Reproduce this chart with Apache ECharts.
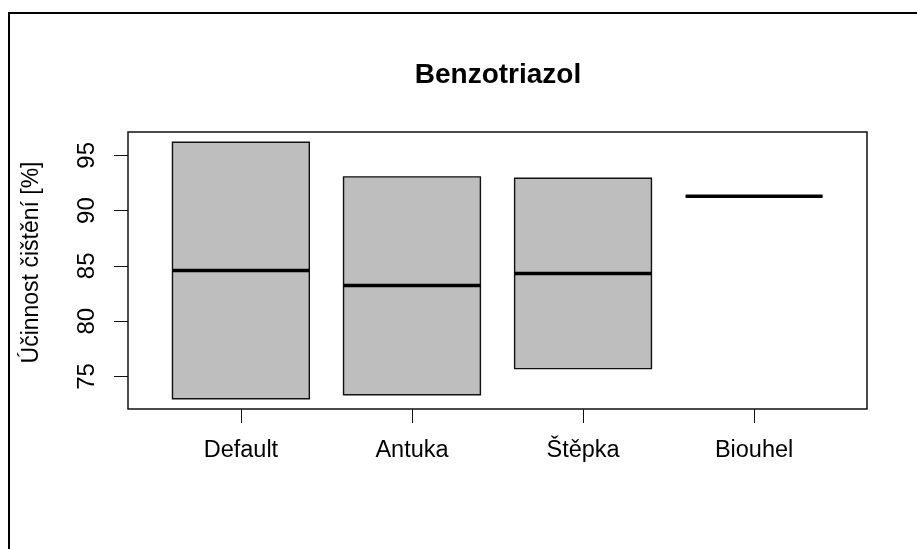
<!DOCTYPE html>
<html>
<head>
<meta charset="utf-8">
<script src="https://cdn.jsdelivr.net/npm/echarts@6/dist/echarts.min.js"></script>
<style>
html,body{margin:0;padding:0;background:#fff;}
#chart{width:917px;height:549px;}
</style>
</head>
<body>
<div id="chart"></div>
<script>
// ---- data ----
const categories = ['Default', 'Antuka', 'Štěpka', 'Biouhel'];
const lowerHinge = [72.98, 73.34, 75.70, 91.29];
const medians    = [84.57, 83.22, 84.30, 91.29];
const upperHinge = [96.18, 93.05, 92.92, 91.29];
const yTicks     = [75, 80, 85, 90, 95];
const titleText  = 'Benzotriazol';
const yTitle     = 'Účinnost čištění [%]';

// ---- derived (R-style 4% axis expansion) ----
const dMin = Math.min(...lowerHinge), dMax = Math.max(...upperHinge);
const yPad = 0.04 * (dMax - dMin);
const xPad = 0.04 * categories.length;
const xPositions = categories.map((c, i) => i + 1);
const seriesData = categories.map((c, i) => [i + 1, lowerHinge[i], medians[i], upperHinge[i]]);

const FONT = 'Liberation Sans, Arial, sans-serif';
const chart = echarts.init(document.getElementById('chart'), null, {renderer: 'canvas'});
const BOX_HALF = 0.4;

chart.setOption({
  animation: false,
  backgroundColor: '#ffffff',
  graphic: [
    {type: 'rect', shape: {x: 9, y: 13, width: 1000, height: 1000}, style: {fill: 'none', stroke: '#000', lineWidth: 2}, z: 0},
    {type: 'text', x: 498, y: 75, style: {text: titleText, font: 'bold 28px ' + FONT, fill: '#000', textAlign: 'center', textVerticalAlign: 'middle'}, z: 10}
  ],
  grid: {left: 128, right: 50, top: 132, bottom: 140, show: true, borderColor: '#111', borderWidth: 1.5, backgroundColor: 'transparent'},
  xAxis: {
    type: 'value',
    min: 0.5 - xPad, max: categories.length + 0.5 + xPad,
    axisLine: {show: false},
    splitLine: {show: false},
    axisTick: {show: true, customValues: xPositions, length: 14, lineStyle: {color: '#111', width: 1}},
    axisLabel: {customValues: xPositions, formatter: v => categories[Math.round(v) - 1] || '', margin: 30,
      fontFamily: FONT, fontSize: 23.5, color: '#000'}
  },
  yAxis: {
    type: 'value',
    min: dMin - yPad, max: dMax + yPad,
    axisLine: {show: false},
    splitLine: {show: false},
    axisTick: {show: true, customValues: yTicks, length: 14, lineStyle: {color: '#111', width: 1}},
    axisLabel: {customValues: yTicks, rotate: 90, margin: 29, fontFamily: FONT, fontSize: 24, color: '#000'},
    name: yTitle, nameLocation: 'middle', nameRotate: 90, nameGap: 85,
    nameTextStyle: {fontFamily: FONT, fontSize: 23, color: '#000', padding: [0, 0, 0, 16]}
  },
  series: [{
    type: 'custom',
    data: seriesData,
    encode: {x: 0, y: [1, 2, 3]},
    clip: false,
    renderItem: function (params, api) {
      const x = api.value(0), lo = api.value(1), med = api.value(2), hi = api.value(3);
      const tl = api.coord([x - BOX_HALF, hi]);
      const br = api.coord([x + BOX_HALF, lo]);
      const m1 = api.coord([x - BOX_HALF, med]);
      const m2 = api.coord([x + BOX_HALF, med]);
      return {
        type: 'group',
        children: [
          {type: 'rect', shape: {x: tl[0], y: tl[1], width: br[0] - tl[0], height: br[1] - tl[1]},
           style: {fill: '#BEBEBE', stroke: '#111', lineWidth: 1.4}},
          {type: 'line', shape: {x1: m1[0], y1: m1[1], x2: m2[0], y2: m2[1]},
           style: {stroke: '#000', lineWidth: 3.5}}
        ]
      };
    }
  }]
});
</script>
</body>
</html>
